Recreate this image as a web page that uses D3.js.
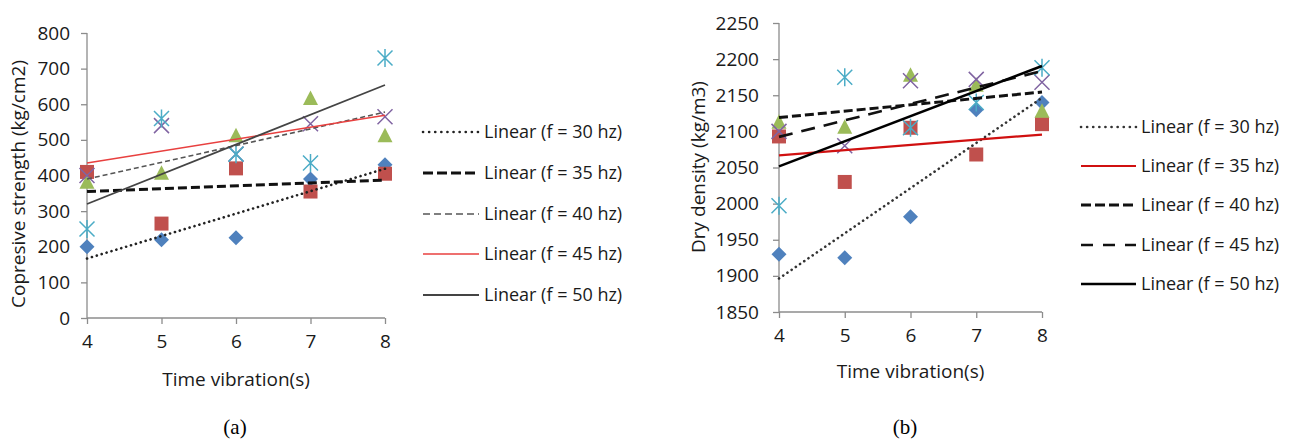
<!DOCTYPE html>
<html><head><meta charset="utf-8">
<script src="https://cdn.jsdelivr.net/npm/d3@7"></script>
<style>html,body{margin:0;padding:0;background:#fff;}svg{display:block;}</style>
</head><body><svg id="c" width="1293" height="441"></svg>
<script>
// ---- data ----
const timeVibration = [4, 5, 6, 7, 8];
const seriesNames = ["f = 30 hz", "f = 35 hz", "f = 40 hz", "f = 45 hz", "f = 50 hz"];
// (a) compressive strength (kg/cm2)
const strength30 = [200, 220, 225, 390, 430];
const strength35 = [410, 265, 420, 355, 405];
const strength40 = [380, 405, 510, 615, 510];
const strength45 = [400, 540, 460, 545, 565];
const strength50 = [250, 560, 460, 435, 730];
const strengthTicks = [0, 100, 200, 300, 400, 500, 600, 700, 800];
// (b) dry density (kg/m3)
const density30 = [1930, 1925, 1982, 2130, 2140];
const density35 = [2093, 2030, 2105, 2068, 2110];
const density40 = [2112, 2105, 2177, 2163, 2127];
const density45 = [2100, 2080, 2170, 2172, 2168];
const density50 = [1997, 2175, 2105, 2140, 2188];
const densityTicks = [1850, 1900, 1950, 2000, 2050, 2100, 2150, 2200, 2250];

const markerColors = ["#4F81BD", "#C0504D", "#9BBB59", "#8064A2", "#4BACC6"];
const markerTypes = ["diamond", "square", "triangle", "x", "star"];

const svg = d3.select("#c");
const FONT = "'Open Sans', 'Noto Sans', sans-serif";

function regress(xs, ys) {
  const n = xs.length, mx = d3.mean(xs), my = d3.mean(ys);
  let sxy = 0, sxx = 0;
  for (let i = 0; i < n; i++) { sxy += (xs[i]-mx)*(ys[i]-my); sxx += (xs[i]-mx)**2; }
  const b = sxy/sxx, a = my - b*mx;
  return x => a + b*x;
}

function drawMarker(g, type, color, x, y) {
  const s = 7.5;
  if (type === "diamond") {
    g.append("path").attr("d", `M${x},${y-s}L${x+s},${y}L${x},${y+s}L${x-s},${y}Z`).attr("fill", color);
  } else if (type === "square") {
    g.append("rect").attr("x", x-7).attr("y", y-7).attr("width", 14).attr("height", 14).attr("fill", color);
  } else if (type === "triangle") {
    g.append("path").attr("d", `M${x},${y-8.5}L${x+7.5},${y+6}L${x-7.5},${y+6}Z`).attr("fill", color);
  } else if (type === "x") {
    g.append("path").attr("d", `M${x-7.5},${y-7.5}L${x+7.5},${y+7.5}M${x+7.5},${y-7.5}L${x-7.5},${y+7.5}`)
      .attr("stroke", color).attr("stroke-width", 1.5).attr("fill", "none");
  } else if (type === "star") {
    g.append("path").attr("d", `M${x-7.5},${y-7.5}L${x+7.5},${y+7.5}M${x+7.5},${y-7.5}L${x-7.5},${y+7.5}M${x},${y-9}L${x},${y+9}`)
      .attr("stroke", color).attr("stroke-width", 1.5).attr("fill", "none");
  }
}

function drawChart(cfg) {
  const g = svg.append("g");
  const x = d3.scaleLinear().domain([4, 8]).range([cfg.x0, cfg.x1]);
  const y = d3.scaleLinear().domain([cfg.ticks[0], cfg.ticks[cfg.ticks.length-1]]).range([cfg.y0, cfg.y1]);
  const axisColor = "#8c8c8c";
  const ya = g.append("g").attr("transform", `translate(${cfg.x0},0)`)
    .call(d3.axisLeft(y).tickValues(cfg.ticks).tickSize(6).tickPadding(cfg.yPad).tickFormat(d3.format("d")));
  const xa = g.append("g").attr("transform", `translate(0,${cfg.y0})`)
    .call(d3.axisBottom(x).tickValues(timeVibration).tickSize(6).tickPadding(11).tickFormat(d3.format("d")));
  [ya, xa].forEach(a => {
    a.select(".domain").attr("stroke", axisColor).attr("stroke-width", 1.3);
    a.selectAll(".tick line").attr("stroke", axisColor).attr("stroke-width", 1.3);
    a.selectAll("text").attr("fill", "#1a1a1a").attr("font-family", FONT).attr("font-size", 19);
  });
  ya.select(".domain").attr("d", `M0,${cfg.y0}V${cfg.y1}`);
  xa.select(".domain").attr("d", `M${cfg.x0},0H${cfg.x1}`);

  g.append("text").attr("x", (cfg.x0+cfg.x1)/2).attr("y", cfg.y0 + cfg.xtDy)
    .attr("text-anchor", "middle").attr("font-family", FONT).attr("font-size", 19).attr("fill", "#1a1a1a")
    .text("Time vibration(s)");
  g.append("text").attr("transform", `translate(${cfg.ytx},${cfg.ytc}) rotate(-90)`)
    .attr("text-anchor", "middle").attr("font-family", FONT).attr("font-size", 19).attr("fill", "#1a1a1a")
    .text(cfg.ytitle);

  cfg.series.forEach((vals, si) => {
    vals.forEach((v, i) => drawMarker(g, markerTypes[si], markerColors[si], x(timeVibration[i]), y(v)));
  });
  cfg.series.forEach((vals, si) => {
    const f = regress(timeVibration, vals);
    const st = cfg.styles[si];
    g.append("line").attr("x1", x(4)).attr("y1", y(f(4))).attr("x2", x(8)).attr("y2", y(f(8)))
      .attr("stroke", st.c).attr("stroke-width", st.w).attr("stroke-dasharray", st.d || null)
      .attr("stroke-linecap", st.cap || "butt");
  });
  seriesNames.forEach((name, si) => {
    const st = cfg.styles[si];
    const ly = cfg.legY[si];
    g.append("line").attr("x1", cfg.legX).attr("x2", cfg.legX + cfg.legLen).attr("y1", ly).attr("y2", ly)
      .attr("stroke", st.c).attr("stroke-width", st.w).attr("stroke-dasharray", st.ld || st.d || null)
      .attr("stroke-linecap", st.cap || "butt");
    g.append("text").attr("x", cfg.legX + cfg.legLen + 5).attr("y", ly).attr("dy", "0.35em")
      .attr("font-family", FONT).attr("font-size", 18).attr("fill", "#1a1a1a")
      .text(`Linear (${name})`);
  });
  g.append("text").attr("x", cfg.capX).attr("y", 434).attr("text-anchor", "middle")
    .attr("font-family", "'Liberation Serif', 'Times New Roman', serif").attr("font-size", 21).attr("fill", "#000")
    .text(cfg.caption);
}

drawChart({
  x0: 87, x1: 385, y0: 318, y1: 33, ticks: strengthTicks, yPad: 11, xtDy: 68,
  series: [strength30, strength35, strength40, strength45, strength50],
  ytitle: "Copresive strength (kg/cm2)", ytx: 25, ytc: 184,
  styles: [
    {c: "#222", w: 2.6, d: "0.1 5", ld: "0.1 6", cap: "round"},
    {c: "#111", w: 3, d: "9 4", ld: "10 4"},
    {c: "#555", w: 1.6, d: "5 3", ld: "7 4"},
    {c: "#E8403F", w: 1.6},
    {c: "#444", w: 1.8}
  ],
  legX: 423, legLen: 56, legY: [132, 173, 214, 254, 295],
  capX: 235, caption: "(a)"
});

drawChart({
  x0: 779, x1: 1042, y0: 312, y1: 23, ticks: densityTicks, yPad: 14, xtDy: 66,
  series: [density30, density35, density40, density45, density50],
  ytitle: "Dry density (kg/m3)", ytx: 705, ytc: 167,
  styles: [
    {c: "#333", w: 2.6, d: "0.1 5", ld: "0.1 6", cap: "round"},
    {c: "#D01010", w: 2.2},
    {c: "#111", w: 3, d: "9 4", ld: "10 4"},
    {c: "#111", w: 2.6, d: "14 9", ld: "12 10"},
    {c: "#000", w: 2.6}
  ],
  legX: 1081, legLen: 55, legY: [127, 166, 205, 245, 284],
  capX: 905, caption: "(b)"
});
</script></body></html>
